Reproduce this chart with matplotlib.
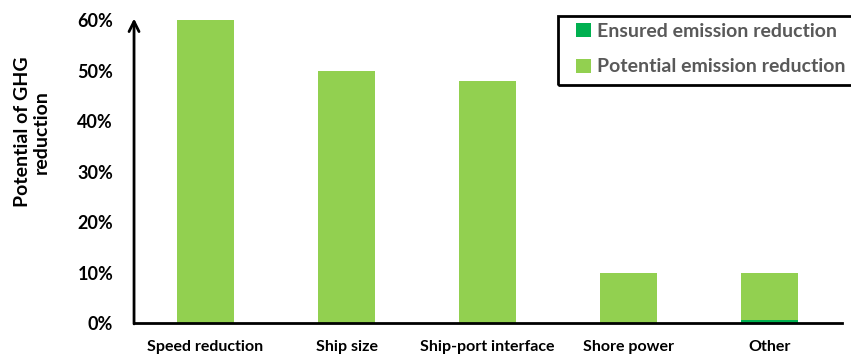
import matplotlib
matplotlib.use("Agg")
import matplotlib.pyplot as plt
from matplotlib.patches import Rectangle

plt.rcParams['font.family'] = ['Lato', 'DejaVu Sans']

categories = ["Speed reduction", "Ship size", "Ship-port interface", "Shore power", "Other"]
total_reduction = [0.60, 0.50, 0.48, 0.10, 0.10]
ensured_reduction = [0.0, 0.0, 0.0, 0.0, 0.006]
potential_reduction = [t - e for t, e in zip(total_reduction, ensured_reduction)]
y_ticks = [0.0, 0.1, 0.2, 0.3, 0.4, 0.5, 0.6]
y_tick_labels = ["0%", "10%", "20%", "30%", "40%", "50%", "60%"]

ensured_color = "#00B050"
potential_color = "#92D050"

fig = plt.figure(figsize=(8.51, 3.56), dpi=100)
ax = fig.add_axes([0.1575, 0.0927, 0.8315, 0.8511])

x = list(range(len(categories)))
ax.bar(x, ensured_reduction, width=0.40, color=ensured_color,
       label="Ensured emission reduction", zorder=2)
ax.bar(x, potential_reduction, width=0.40, bottom=ensured_reduction,
       color=potential_color, label="Potential emission reduction", zorder=2)

ax.set_xlim(-0.507, 4.51)
ax.set_ylim(0, 0.6)
ax.set_xticks(x)
ax.set_xticklabels(categories, fontsize=11.5, fontweight='bold')
ax.set_yticks(y_ticks)
ax.set_yticklabels(y_tick_labels, fontsize=13, fontweight='bold')
ax.tick_params(axis='both', length=0)
ax.tick_params(axis='x', pad=12)
ax.tick_params(axis='y', pad=15)

for side in ("top", "right", "left"):
    ax.spines[side].set_visible(False)
ax.spines["bottom"].set_linewidth(2)
ax.spines["bottom"].set_zorder(3)

# vertical axis drawn as an arrow
ax.annotate("", xy=(0, 1.005), xytext=(0, -0.003), xycoords='axes fraction',
            arrowprops=dict(arrowstyle='->', lw=2, color='black',
                            mutation_scale=18, shrinkA=0, shrinkB=0),
            annotation_clip=False)

fig.text(32 / 851, 1 - 132 / 356, "Potential of GHG\nreduction", rotation=90,
         ha='center', va='center', fontsize=14, fontweight='bold',
         linespacing=1.15, multialignment='center')

leg = fig.legend(loc='upper left', bbox_to_anchor=(576 / 851, 1 - 23 / 356),
                 frameon=False, fontsize=14, handlelength=0.75, handleheight=0.75,
                 handletextpad=0.35, labelspacing=0.95, borderaxespad=0,
                 borderpad=0)
for t in leg.get_texts():
    t.set_color("#595959")
    t.set_fontweight('bold')

# legend frame, running past the right edge of the figure
fig.patches.append(Rectangle((558 / 851, 1 - 85 / 356), 320 / 851, 69 / 356,
                             transform=fig.transFigure, fill=False,
                             edgecolor='black', lw=2, clip_on=False))

fig.savefig("out.png", dpi=100)
